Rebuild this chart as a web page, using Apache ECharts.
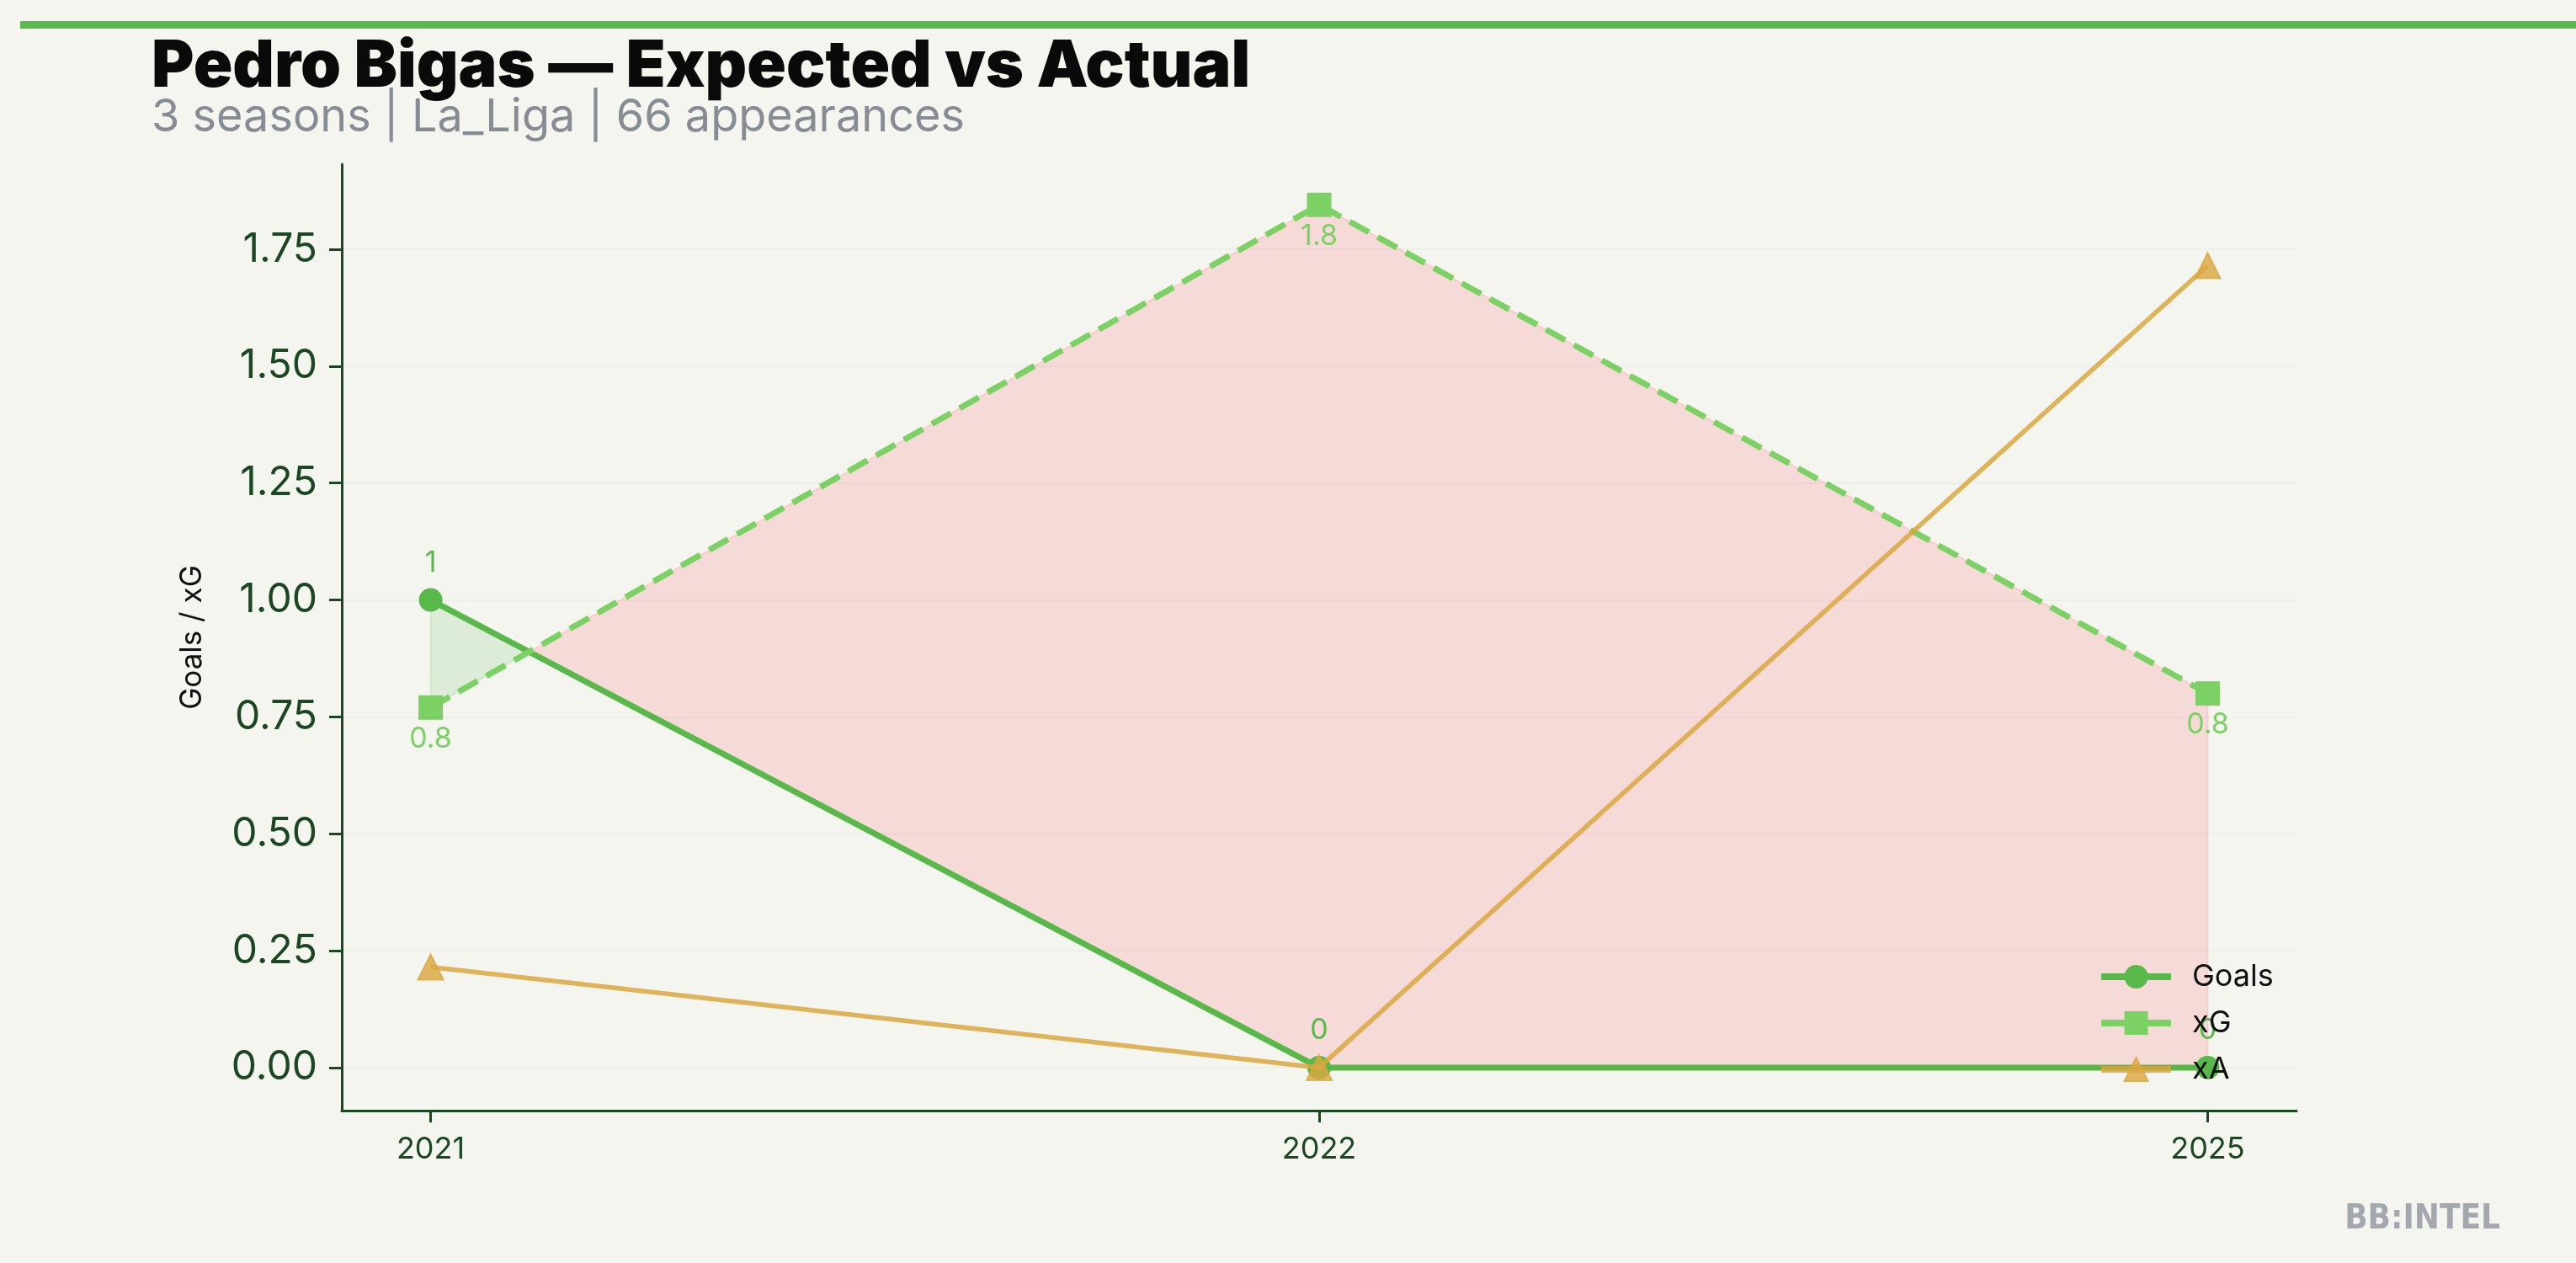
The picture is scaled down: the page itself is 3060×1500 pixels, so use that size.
<!DOCTYPE html>
<html>
<head>
<meta charset="utf-8">
<script src="https://cdn.jsdelivr.net/npm/echarts@6/dist/echarts.min.js"></script>
<style>
html,body{margin:0;padding:0;background:#f4f5ef;}
#chart{width:3060px;height:1500px;}
</style>
</head>
<body>
<div id="chart"></div>
<script>
// ---- data ----
const seasons = ['2021', '2022', '2025'];
const goals = [1, 0, 0];
const xg = [0.77, 1.845, 0.80];
const xa = [0.215, 0, 1.715];
const yTicks = [0, 0.25, 0.5, 0.75, 1.0, 1.25, 1.5, 1.75];
const titleText = 'Pedro Bigas — Expected vs Actual';
const subtitleText = '3 seasons | La_Liga | 66 appearances';

const C_GOALS = '#58b849';
const C_XG = '#7bd164';
const C_XA = '#d9a740';
const C_AXIS = '#1c4724';
const FONT = 'Inter, Roboto, "Noto Sans", sans-serif';

const idx = seasons.map((s, i) => i);
const pairs = arr => arr.map((v, i) => [idx[i], v]);

// fill-between regions (goals vs xG), split at crossings
function buildRegions() {
  const regions = [];
  let cur = null;
  for (let i = 0; i < goals.length - 1; i++) {
    const g0 = goals[i], g1 = goals[i + 1], x0 = xg[i], x1 = xg[i + 1];
    const d0 = g0 - x0, d1 = g1 - x1;
    if (!cur) cur = { pos: d0 >= 0, gs: [[i, g0]], xs: [[i, x0]] };
    if (d0 * d1 < 0) {
      const t = d0 / (d0 - d1);
      const xc = i + t, yc = g0 + t * (g1 - g0);
      cur.gs.push([xc, yc]); cur.xs.push([xc, yc]);
      regions.push(cur);
      cur = { pos: d1 >= 0, gs: [[xc, yc]], xs: [[xc, yc]] };
    }
    cur.gs.push([i + 1, g1]); cur.xs.push([i + 1, x1]);
  }
  if (cur) regions.push(cur);
  return regions;
}
const regions = buildRegions();

const chart = echarts.init(document.getElementById('chart'), null, { renderer: 'canvas' });

const option = {
  backgroundColor: '#f4f5ef',
  animation: false,
  grid: { left: 406, right: 332, top: 195, bottom: 181, containLabel: false },
  xAxis: {
    type: 'value', min: -0.1, max: 2.1,
    axisLine: { show: true, onZero: false, lineStyle: { color: C_AXIS, width: 3 } },
    axisTick: { show: true, customValues: idx, length: 14, lineStyle: { color: C_AXIS, width: 3 } },
    axisLabel: { customValues: idx, formatter: v => seasons[Math.round(v)], color: C_AXIS, fontSize: 36, fontFamily: FONT, margin: 28 },
    splitLine: { show: false }
  },
  yAxis: {
    type: 'value', min: -0.092, max: 1.932,
    name: 'Goals / xG', nameLocation: 'middle', nameRotate: 90, nameGap: 160,
    nameTextStyle: { color: '#111', fontSize: 35, fontFamily: FONT },
    axisLine: { show: true, onZero: false, lineStyle: { color: C_AXIS, width: 3 } },
    axisTick: { show: true, customValues: yTicks, length: 15, lineStyle: { color: C_AXIS, width: 3 } },
    axisLabel: { customValues: yTicks, formatter: v => v.toFixed(2), color: C_AXIS, fontSize: 48, fontFamily: FONT, margin: 29 },
    splitLine: { show: false }
  },
  legend: {
    orient: 'vertical', left: 2487, top: 1137,
    itemWidth: 83, itemHeight: 35, itemGap: 19,
    textStyle: { color: '#111', fontSize: 36, fontFamily: FONT, padding: [0, 0, 0, 20] },
    data: [
      { name: 'Goals', lineStyle: { width: 8 } },
      { name: 'xG', lineStyle: { type: 'solid', width: 8 } },
      { name: 'xA', lineStyle: { width: 8 } }
    ]
  },
  series: [
    {
      type: 'custom', name: 'fill', silent: true, z: 1,
      data: [[0, 0]],
      renderItem: (params, api) => {
        const children = regions.map(r => {
          const pts = r.gs.concat(r.xs.slice().reverse()).map(p => api.coord(p));
          const col = r.pos ? 'rgba(90,185,75,0.15)' : 'rgba(255,100,105,0.18)';
          return { type: 'polygon', shape: { points: pts }, style: { fill: col, stroke: col, lineWidth: 2 } };
        });
        return { type: 'group', children };
      },
      markLine: {
        silent: true, symbol: 'none', label: { show: false },
        lineStyle: { color: 'rgba(0,0,0,0.025)', width: 2, type: 'solid' },
        data: yTicks.map(v => ({ yAxis: v }))
      }
    },
    {
      name: 'Goals', type: 'line', z: 3, data: pairs(goals),
      symbol: 'circle', symbolSize: 28,
      lineStyle: { color: C_GOALS, width: 7 },
      itemStyle: { color: C_GOALS },
      label: { show: true, position: 'top', distance: 13, formatter: p => String(p.value[1]), color: C_GOALS, fontSize: 34, fontFamily: FONT }
    },
    {
      name: 'xG', type: 'line', z: 4, data: pairs(xg),
      symbol: 'rect', symbolSize: 29,
      lineStyle: { color: C_XG, width: 7, type: [26, 12] },
      itemStyle: { color: C_XG },
      label: { show: true, position: 'bottom', distance: 6, formatter: p => p.value[1].toFixed(1), color: C_XG, fontSize: 34, fontFamily: FONT }
    },
    {
      name: 'xA', type: 'line', z: 5, data: pairs(xa),
      symbol: 'triangle', symbolSize: 30,
      lineStyle: { color: C_XA, width: 5.5, opacity: 0.85 },
      itemStyle: { color: C_XA, opacity: 0.8, borderColor: C_XA, borderWidth: 2 }
    }
  ],
  graphic: [
    { type: 'rect', shape: { x: 24, y: 25, width: 3036, height: 9 }, style: { fill: '#5ab94b' }, silent: true },
    { type: 'text', x: 180, y: 80, style: { text: titleText, font: '900 77px Inter, Lato, "Noto Sans", sans-serif', fill: '#0a0a0a', verticalAlign: 'middle' } },
    { type: 'text', x: 180, y: 140, style: { text: subtitleText, font: '54px Inter, Roboto, "Noto Sans", sans-serif', fill: '#868b94', verticalAlign: 'middle' } },
    { type: 'text', x: 2970, y: 1449, style: { text: 'BB:INTEL', font: 'bold 40px "Liberation Sans Narrow", "DejaVu Sans Condensed", sans-serif', fill: '#a4a8ae', align: 'right', verticalAlign: 'middle' } }
  ]
};
chart.setOption(option);
</script>
</body>
</html>
